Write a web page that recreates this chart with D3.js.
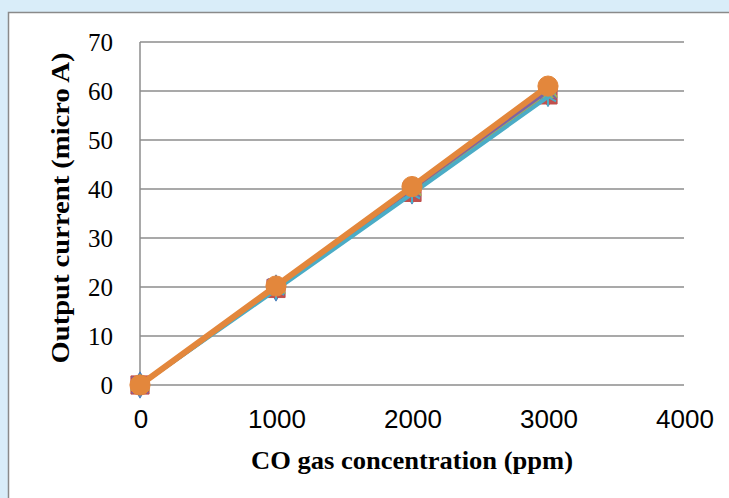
<!DOCTYPE html>
<html><head><meta charset="utf-8">
<script src="https://cdn.jsdelivr.net/npm/d3@7"></script>
<style>body{margin:0;background:#d9edf9;} svg{display:block;}</style>
</head><body>
<svg id="c" width="729" height="498"></svg>
<script>
const concentrations = [0, 1000, 2000, 3000];
const xTicks = [0, 1000, 2000, 3000, 4000];
const yTicks = [0, 10, 20, 30, 40, 50, 60, 70];
const seriesBlue   = [0, 19.8, 39.6, 59.5];
const seriesRed    = [0, 19.7, 39.3, 59.2];
const seriesGreen  = [0, 19.8, 39.8, 59.8];
const seriesPurple = [0, 20.0, 40.0, 60.1];
const seriesTeal   = [0, 19.4, 39.0, 58.8];
const seriesOrange = [0, 20.2, 40.5, 61.0];
const xTitle = "CO gas concentration (ppm)";
const yTitle = "Output current (micro A)";

const series = [
  {vals: seriesBlue, color: "#4F81BD", shape: "diamond", size: 200},
  {vals: seriesRed, color: "#C0504D", shape: "square", size: 330},
  {vals: seriesGreen, color: "#9BBB59", shape: "triangle", size: 150},
  {vals: seriesPurple, color: "#8064A2", shape: "x", size: 180},
  {vals: seriesTeal, color: "#4BACC6", shape: "star", size: 240},
  {vals: seriesOrange, color: "#E3873C", shape: "circle", size: 320}
];

const svg = d3.select("#c");
svg.append("rect").attr("x", 8.5).attr("y", 12.5).attr("width", 740).attr("height", 500)
  .attr("fill", "#fff").attr("stroke", "#8a8a8a").attr("stroke-width", 1.5);

const x = d3.scaleLinear().domain([0, 4000]).range([140, 684]);
const y = d3.scaleLinear().domain([0, 70]).range([385, 42]);

const g = svg.append("g");
g.selectAll("line.grid").data(yTicks).join("line")
  .attr("x1", x(0)).attr("x2", x(4000))
  .attr("y1", d => y(d)).attr("y2", d => y(d))
  .attr("stroke", "#8c8c8c").attr("stroke-width", 1.5);
g.append("line").attr("x1", x(0)).attr("x2", x(0)).attr("y1", y(0)).attr("y2", y(70))
  .attr("stroke", "#8c8c8c").attr("stroke-width", 1.5);

g.selectAll("text.yt").data(yTicks).join("text")
  .attr("x", 113).attr("y", d => y(d)).attr("dy", "0.35em")
  .attr("text-anchor", "end").attr("font-family", "Liberation Serif, serif")
  .attr("font-size", 25).attr("fill", "#000").text(d => d);
g.selectAll("text.xt").data(xTicks).join("text")
  .attr("x", d => x(d) + 1).attr("y", 428)
  .attr("text-anchor", "middle").attr("font-family", "Liberation Sans, Arial, sans-serif")
  .attr("font-size", 26).attr("fill", "#000").text(d => d);

svg.append("text").attr("x", 412).attr("y", 469).attr("text-anchor", "middle")
  .attr("font-family", "Liberation Serif, serif").attr("font-weight", "bold")
  .attr("font-size", 25).attr("textLength", 322).attr("lengthAdjust", "spacingAndGlyphs").text(xTitle);
svg.append("text").attr("transform", "translate(69,208) rotate(-90)").attr("text-anchor", "middle")
  .attr("font-family", "Liberation Serif, serif").attr("font-weight", "bold")
  .attr("font-size", 25).attr("textLength", 311).attr("lengthAdjust", "spacingAndGlyphs").text(yTitle);

const line = d3.line().x((d, i) => x(concentrations[i])).y(d => y(d));
const symMap = {diamond: d3.symbolDiamond, square: d3.symbolSquare, triangle: d3.symbolTriangle,
  x: d3.symbolX, star: d3.symbolAsterisk, circle: d3.symbolCircle};

series.forEach((s, si) => {
  const sg = svg.append("g");
  sg.append("path").datum(s.vals).attr("d", line).attr("fill", "none")
    .attr("stroke", s.color).attr("stroke-width", si === 5 ? 6 : 4).attr("stroke-linejoin", "round");
  const pts = sg.selectAll("g.pt").data(s.vals).join("g")
    .attr("transform", (d, i) => `translate(${x(concentrations[i])},${y(d)})`);
  if (s.shape === "x" || s.shape === "star") {
    pts.append("path").attr("d", d3.symbol(symMap[s.shape], s.size)())
      .attr("fill", "none").attr("stroke", s.color).attr("stroke-width", 2);
  } else {
    pts.append("path").attr("d", d3.symbol(symMap[s.shape], s.size)()).attr("fill", s.color)
      .attr("stroke", s.color).attr("stroke-width", 1);
  }
});
</script>
</body></html>
